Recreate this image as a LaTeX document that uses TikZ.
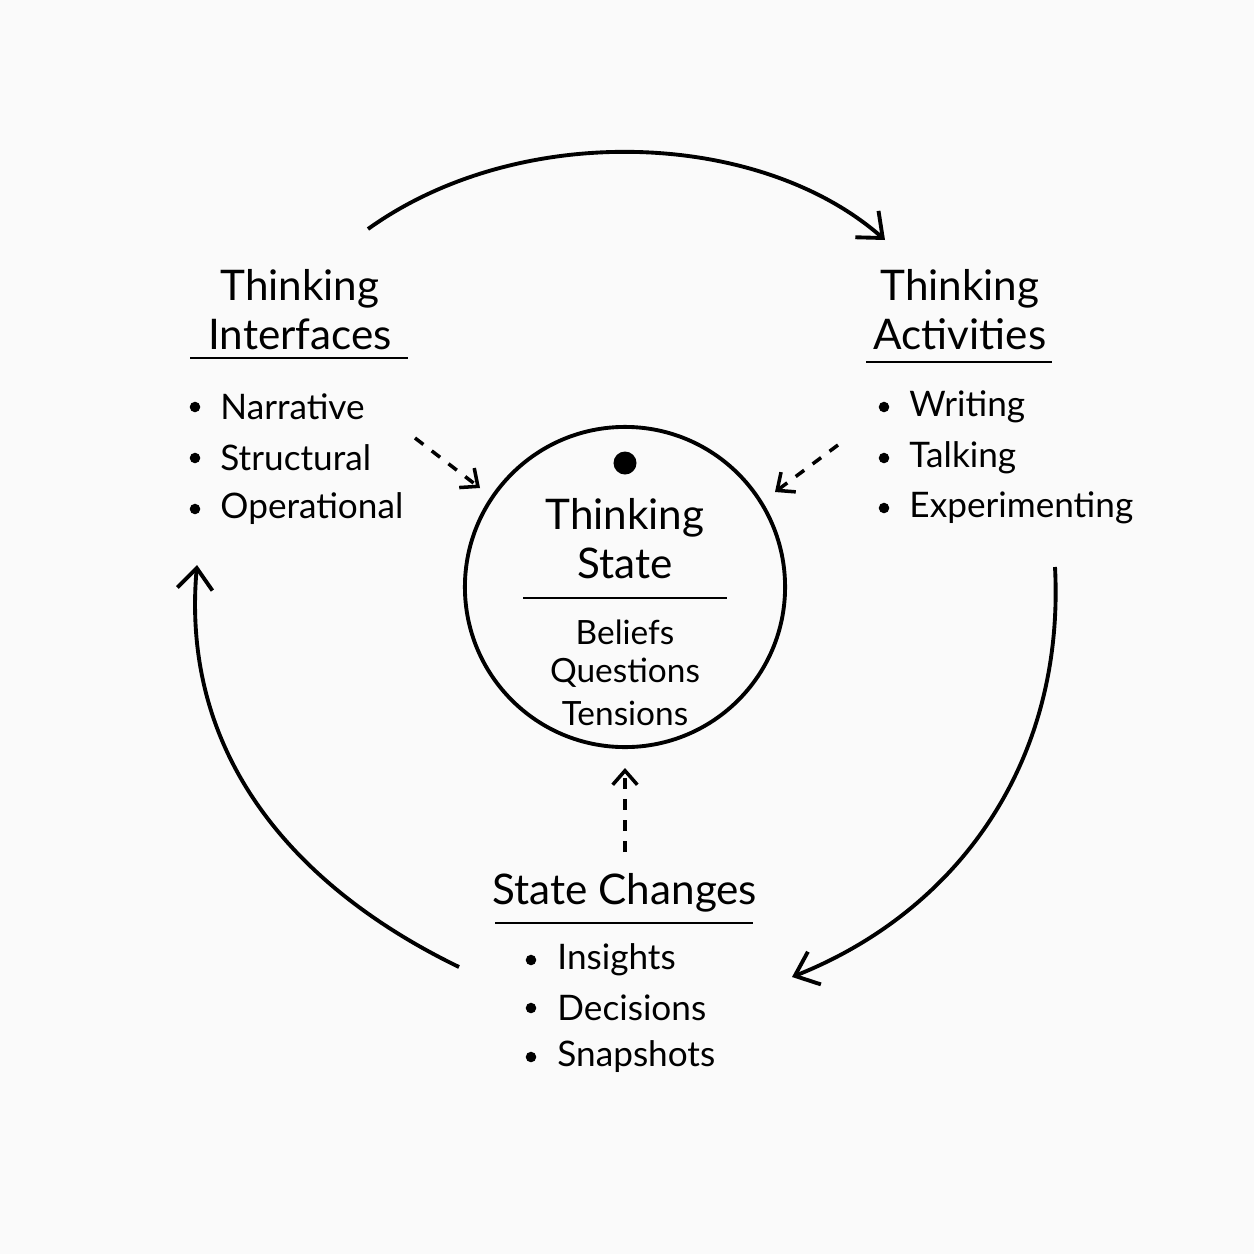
\documentclass[tikz,border=0pt]{standalone}
\usepackage{fontspec}
\setmainfont{Lato}
\usetikzlibrary{arrows.meta}
\begin{document}
\begin{tikzpicture}[x=0.01cm,y=-0.01cm,
  title/.style={align=center,font=\fontsize{12}{14}\selectfont},
  item/.style={anchor=west,font=\fontsize{10}{12}\selectfont},
  bul/.style={circle,fill=black,inner sep=0pt,minimum size=3pt},
  flow/.style={line width=1.1pt,-{Straight Barb[length=6pt,width=10pt]}},
  hint/.style={line width=1pt,dashed,-{Straight Barb[length=4pt,width=7pt]}}]
\useasboundingbox[fill=white!98!black] (0,0) rectangle (1254,1254);

% centre
\node[draw,line width=1.1pt,circle,minimum size=3.2cm,inner sep=0pt] (state) at (625,587) {};
\node[circle,fill=black,minimum size=0.23cm,inner sep=0pt] (dot) at (625,463) {};
\node[title] (stitle) at (625,539) {Thinking\\State};
\draw[semithick] (523,598) -- (727,598);
\node[font=\fontsize{9.5}{12}\selectfont] (b1) at (625,632) {Beliefs};
\node[font=\fontsize{9.5}{12}\selectfont] (b2) at (625,673) {Questions};
\node[font=\fontsize{9.5}{12}\selectfont] (b3) at (625,713) {Tensions};

% interfaces
\node[title] (iface) at (300,310) {Thinking\\Interfaces};
\draw[semithick] (190,358) -- (408,358);
\foreach \t/\y in {Narrative/407,Structural/458,Operational/509}{
  \node[bul] at (195,\y) {};
  \node[item] at (208,\y) {\t};}

% activities
\node[title] (act) at (960,310) {Thinking\\Activities};
\draw[semithick] (866,362) -- (1052,362);
\foreach \t/\y in {Writing/407,Talking/458,Experimenting/508}{
  \node[bul] at (884,\y) {};
  \node[item] at (897,\y) {\t};}

% changes
\node[title] (chg) at (625,893) {State Changes};
\draw[semithick] (495,923) -- (753,923);
\foreach \t/\y in {Insights/960,Decisions/1008,Snapshots/1057}{
  \node[bul] at (531,\y) {};
  \node[item] at (545,\y) {\t};}

% dashed hints
\coordinate (h1) at (415,438);
\coordinate (h1e) at (480,488);
\coordinate (h2) at (838,445);
\coordinate (h2e) at (775,492);
\coordinate (h3) at (625,852);
\coordinate (h3e) at (625,768);
\draw[hint] (h1) -- (h1e);
\draw[hint] (h2) -- (h2e);
\draw[hint] (h3) -- (h3e);

% cycle
\coordinate (c1) at (368,229);
\coordinate (c2) at (885,240);
\coordinate (c3) at (1055,567);
\coordinate (c4) at (792,977);
\coordinate (c5) at (459,967);
\coordinate (c6) at (197,565);
\draw[flow] (c1) .. controls (520,120) and (760,130) .. (c2);
\draw[flow] (c3) .. controls (1065,760) and (960,910) .. (c4);
\draw[flow] (c5) .. controls (300,890) and (180,760) .. (c6);
\end{tikzpicture}
\end{document}
